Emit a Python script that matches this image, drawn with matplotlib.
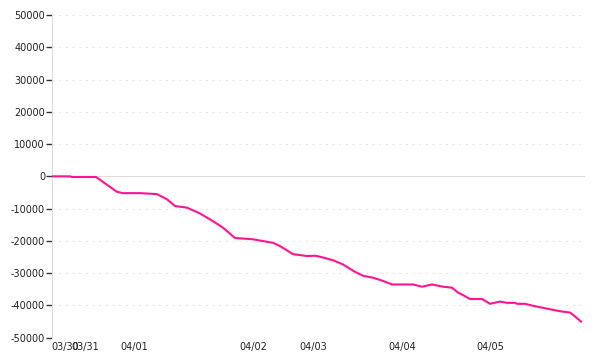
import matplotlib.pyplot as plt
import numpy as np

# position along the time axis (chart units) and cumulative value
pos = [0, 18, 20, 44, 65, 71, 88, 105, 108, 115, 123, 135, 148, 161, 171, 183,
       201, 208, 221, 228, 241, 255, 263, 268, 281, 291, 303, 311, 321, 331,
       340, 361, 370, 380, 391, 400, 406, 411, 418, 430, 438, 448, 455, 463,
       465, 473, 481, 495, 508, 518, 521, 529]
vals = [0, 0, -200, -200, -4800, -5200, -5200, -5500, -6000, -7100, -9200, -9700,
        -11500, -13900, -15900, -19100, -19500, -19900, -20600, -21600, -24100,
        -24700, -24600, -24900, -26000, -27300, -29600, -30800, -31400, -32400,
        -33500, -33500, -34200, -33500, -34200, -34500, -36000, -36800, -38000,
        -38000, -39500, -38800, -39200, -39200, -39500, -39500, -40100, -41000,
        -41800, -42200, -42900, -45000]

date_pos = [13.5, 33.5, 82.5, 201.5, 261, 350, 438]
date_labels = ['03/30', '03/31', '04/01', '04/02', '04/03', '04/04', '04/05']
y_ticks = list(range(-50000, 50001, 10000))

fig = plt.figure(figsize=(6, 3.6), dpi=100)
ax = fig.add_axes([52 / 600, 1 - 337.7 / 360, 533 / 600, (337.7 - 15) / 360])

for y in y_ticks:
    if y == 0:
        ax.axhline(0, color='#dddddd', lw=0.8, zorder=1)
    else:
        ax.axhline(y, color='#e6e6e6', lw=0.8, ls=(0, (2, 4)), zorder=1)

ax.plot(pos, vals, color='#ff1493', lw=1.5, zorder=3)

ax.set_xlim(0, 533)
ax.set_ylim(-50000, 50000)
ax.set_yticks(y_ticks)
ax.set_yticklabels([str(v) for v in y_ticks])
ax.set_xticks(date_pos)
ax.set_xticklabels(date_labels)

for s in ['top', 'right', 'bottom']:
    ax.spines[s].set_visible(False)
ax.spines['left'].set_color('#dddddd')
ax.tick_params(axis='y', length=4, width=1, color='#333333', labelsize=7,
               labelcolor='#222222', pad=1)
ax.tick_params(axis='x', length=0, labelsize=7, labelcolor='#222222', pad=3)

fig.savefig('out.png', dpi=100)
